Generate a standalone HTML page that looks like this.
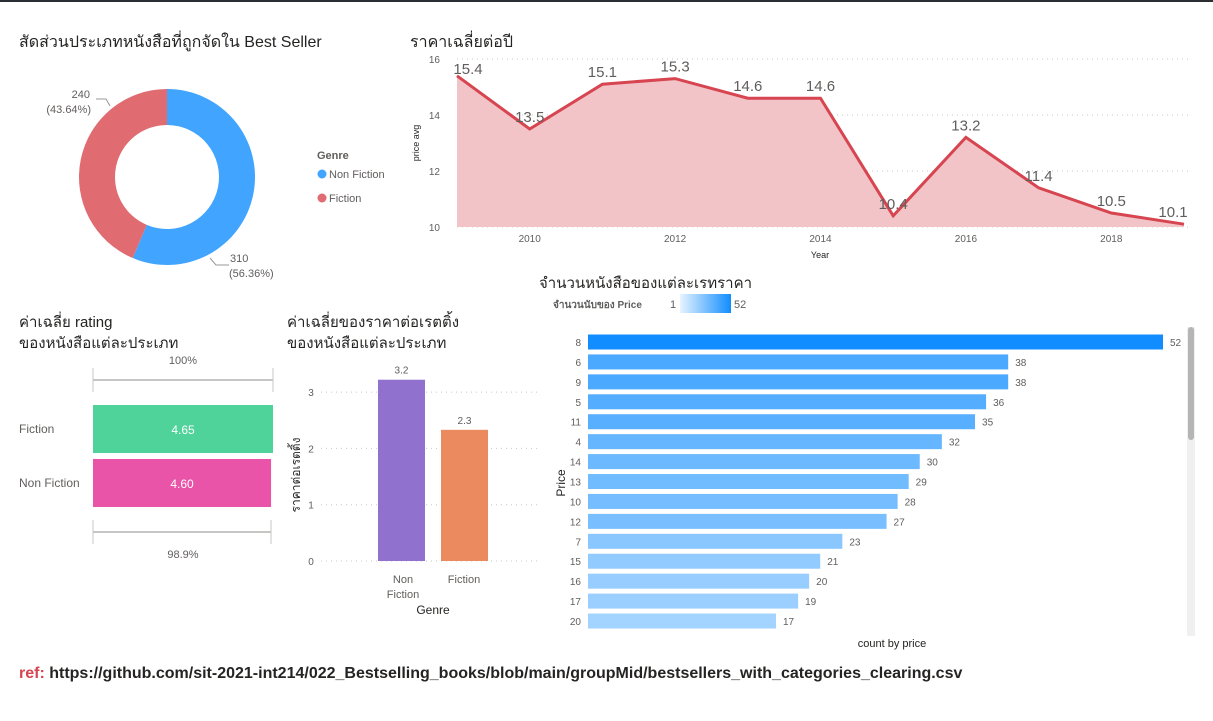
<!DOCTYPE html>
<html><head><meta charset="utf-8">
<style>
body{margin:0;width:1213px;height:721px;background:#fff;overflow:hidden;font-family:"Liberation Sans","Noto Sans CJK SC",sans-serif;}
#top{position:absolute;left:0;top:0;width:1213px;height:2px;background:#2b2f33;}
svg text{font-family:"Liberation Sans","Noto Sans CJK SC",sans-serif;}
</style></head><body>
<div id="top"></div>
<svg id="s" width="1213" height="721" style="position:absolute;left:0;top:0">
<text x="19" y="47" font-size="16" fill="#252423">สัดส่วนประเภทหนังสือที่ถูกจัดใน Best Seller</text>
<text x="410" y="47" font-size="16" fill="#252423">ราคาเฉลี่ยต่อปี</text>
<text x="19" y="327" font-size="15" fill="#252423">ค่าเฉลี่ย rating</text>
<text x="19" y="348" font-size="15" fill="#252423">ของหนังสือแต่ละประเภท</text>
<text x="287" y="327" font-size="15" fill="#252423">ค่าเฉลี่ยของราคาต่อเรตติ้ง</text>
<text x="287" y="348" font-size="15" fill="#252423">ของหนังสือแต่ละประเภท</text>
<text x="539" y="288" font-size="15" fill="#252423">จำนวนหนังสือของแต่ละเรทราคา</text>
<text x="19" y="678" font-size="16" font-weight="bold" fill="#252423"><tspan fill="#d64550">ref:</tspan> https://github.com/sit-2021-int214/022_Bestselling_books/blob/main/groupMid/bestsellers_with_categories_clearing.csv</text>
<g id="donut"></g><g id="line"></g><g id="bullet"></g><g id="col"></g><g id="bars"></g>
</svg>
<script>
const NS="http://www.w3.org/2000/svg";
function el(p,t,a,txt){const e=document.createElementNS(NS,t);for(const k in a)e.setAttribute(k,a[k]);if(txt!==undefined)e.textContent=txt;p.appendChild(e);return e;}

// ---- donut data
const genres=["Non Fiction","Fiction"];
const genreCounts=[310,240];
const genreColors=["#41a4ff","#e06c72"];
// ---- line data
const years=[2009,2010,2011,2012,2013,2014,2015,2016,2017,2018,2019];
const priceAvg=[15.4,13.5,15.1,15.3,14.6,14.6,10.4,13.2,11.4,10.5,10.1];
const yTicks=[10,12,14,16];
const xTicks=[2010,2012,2014,2016,2018];
// ---- bullet data
const bulletCats=["Fiction","Non Fiction"];
const bulletVals=[4.65,4.60];
// ---- column data
const colCats=["Non Fiction","Fiction"];
const colVals=[3.22,2.33];
const colLabels=["3.2","2.3"];
const colTicks=[0,1,2,3];
// ---- bar data
const priceCats=["8","6","9","5","11","4","14","13","10","12","7","15","16","17","20"];
const priceCounts=[52,38,38,36,35,32,30,29,28,27,23,21,20,19,17];

// donut
(function(){
 const g=document.getElementById('donut');const cx=167,cy=177,R=88,r=52;
 const tot=genreCounts.reduce((a,b)=>a+b,0);let a0=-Math.PI/2;
 genreCounts.forEach((v,i)=>{const a1=a0+v/tot*2*Math.PI;const lg=(a1-a0)>Math.PI?1:0;
  const p=`M${cx+R*Math.cos(a0)},${cy+R*Math.sin(a0)} A${R},${R} 0 ${lg} 1 ${cx+R*Math.cos(a1)},${cy+R*Math.sin(a1)} L${cx+r*Math.cos(a1)},${cy+r*Math.sin(a1)} A${r},${r} 0 ${lg} 0 ${cx+r*Math.cos(a0)},${cy+r*Math.sin(a0)}Z`;
  const s=el(g,'path',{d:p,fill:genreColors[i]});
  
  
  a0=a1;});
 el(g,'polyline',{points:"210,258 216,265 229,265",fill:"none",stroke:"#999"});
 el(g,'polyline',{points:"110,106 106,99 96,99",fill:"none",stroke:"#999"});
 const l1=el(g,'text',{x:230,y:262,"font-size":11,fill:"#605e5c"},genreCounts[0]);
 el(g,'text',{x:229,y:277,"font-size":11,fill:"#605e5c"},"("+(genreCounts[0]/tot*100).toFixed(2)+"%)");
 const l2=el(g,'text',{x:90,y:98,"font-size":11,fill:"#605e5c","text-anchor":"end"},genreCounts[1]);
 el(g,'text',{x:91,y:113,"font-size":11,fill:"#605e5c","text-anchor":"end"},"("+(genreCounts[1]/tot*100).toFixed(2)+"%)");
 const lt=el(g,'text',{x:317,y:159,"font-size":11,"font-weight":"bold",fill:"#605e5c"},"Genre");
 genres.forEach((n,i)=>{const y=174+i*24;el(g,'circle',{cx:322,cy:y,r:4.5,fill:genreColors[i]});
  const t=el(g,'text',{x:329,y:y+4,"font-size":11,fill:"#605e5c"},n);});
})();

// line
(function(){
 const g=document.getElementById('line');
 const X=y=>457+(y-2009)*(1184-457)/10, Y=v=>227-(v-10)*28;
 yTicks.forEach(t=>{el(g,'line',{x1:457,x2:1190,y1:Y(t),y2:Y(t),stroke:"#c8c8c8","stroke-dasharray":"1,4"});
  el(g,'text',{x:440,y:Y(t)+4,"font-size":10,fill:"#605e5c","text-anchor":"end"},t);});
 xTicks.forEach(t=>el(g,'text',{x:X(t),y:242,"font-size":10,fill:"#605e5c","text-anchor":"middle"},t));
 const pts=years.map((y,i)=>X(y)+","+Y(priceAvg[i])).join(" ");
 const a=el(g,'polygon',{points:X(years[0])+","+Y(10)+" "+pts+" "+X(years[years.length-1])+","+Y(10),fill:"#f2c4c7"});
 
 const l=el(g,'polyline',{points:pts,fill:"none",stroke:"#d64550","stroke-width":3});
 
 years.forEach((y,i)=>{const dx=i==0?11:(i==years.length-1?-11:0);
  const t=el(g,'text',{x:X(y)+dx,y:Y(priceAvg[i])-7+(i==0?5:0),"font-size":15,fill:"#605e5c","text-anchor":"middle"},priceAvg[i].toFixed(1));
  });
 el(g,'text',{x:820,y:258,"font-size":9,fill:"#252423","text-anchor":"middle"},"Year");
 el(g,'text',{x:419,y:143,"font-size":9,fill:"#252423","text-anchor":"middle",transform:"rotate(-90 419 143)"},"price avg");
})();

// bullet
(function(){
 const g=document.getElementById('bullet');const x0=93,w=180;
 el(g,'text',{x:183,y:364,"font-size":11,fill:"#605e5c","text-anchor":"middle"},"100%");
 el(g,'line',{x1:x0,x2:x0+w,y1:380,y2:380,stroke:"#c8c6c4","stroke-width":2});
 el(g,'line',{x1:x0,x2:x0,y1:368,y2:392,stroke:"#c8c6c4"});el(g,'line',{x1:x0+w,x2:x0+w,y1:368,y2:392,stroke:"#c8c6c4"});
 el(g,'line',{x1:x0,x2:x0+w*0.989,y1:532,y2:532,stroke:"#c8c6c4","stroke-width":2});
 el(g,'line',{x1:x0,x2:x0,y1:520,y2:544,stroke:"#c8c6c4"});el(g,'line',{x1:x0+w*0.989,x2:x0+w*0.989,y1:520,y2:544,stroke:"#c8c6c4"});
 el(g,'text',{x:183,y:558,"font-size":11,fill:"#605e5c","text-anchor":"middle"},"98.9%");
 const cols=["#4fd39a","#e954a8"];const mx=Math.max(...bulletVals);
 bulletCats.forEach((c,i)=>{const y=405+i*54;const bw=w*bulletVals[i]/mx;
  const r=el(g,'rect',{x:x0,y:y,width:bw,height:48,fill:cols[i]});
  el(g,'text',{x:x0+bw/2,y:y+29,"font-size":12,fill:"#fff","text-anchor":"middle"},bulletVals[i].toFixed(2));
  el(g,'text',{x:19,y:y+28,"font-size":12,fill:"#605e5c"},c);});
})();

// column
(function(){
 const g=document.getElementById('col');const Y=v=>561-v*56.3;
 colTicks.forEach(t=>{el(g,'line',{x1:321,x2:540,y1:Y(t),y2:Y(t),stroke:"#c8c8c8","stroke-dasharray":"1,4"});
  el(g,'text',{x:311,y:Y(t)+4,"font-size":10,fill:"#605e5c","text-anchor":"middle"},t);});
 const cols=["#9071ce","#eb895f"];
 colCats.forEach((c,i)=>{const x=378+i*63;
  const r=el(g,'rect',{x:x,y:Y(colVals[i]),width:47,height:Y(0)-Y(colVals[i]),fill:cols[i]});
  el(g,'text',{x:x+23.5,y:Y(colVals[i])-6,"font-size":10,fill:"#605e5c","text-anchor":"middle"},colLabels[i]);});
 el(g,'text',{x:403,y:583,"font-size":11,fill:"#605e5c","text-anchor":"middle"},"Non");
 el(g,'text',{x:403,y:598,"font-size":11,fill:"#605e5c","text-anchor":"middle"},"Fiction");
 el(g,'text',{x:464,y:583,"font-size":11,fill:"#605e5c","text-anchor":"middle"},"Fiction");
 el(g,'text',{x:433,y:614,"font-size":12,fill:"#252423","text-anchor":"middle"},"Genre");
 el(g,'text',{x:300,y:475,"font-size":12,fill:"#252423","text-anchor":"middle",transform:"rotate(-90 300 475)"},"ราคาต่อเรตติ้ง");
})();

// bars
(function(){
 const g=document.getElementById('bars');
 el(g,'text',{x:553,y:308,"font-size":10,"font-weight":"bold",fill:"#605e5c"},"จำนวนนับของ Price");
 el(g,'text',{x:670,y:308,"font-size":11,fill:"#605e5c"},"1");
 const df=el(document.getElementById('s'),'defs',{});const lg=el(df,'linearGradient',{id:'gr'});
 el(lg,'stop',{offset:0,"stop-color":"#e6f3ff"});el(lg,'stop',{offset:1,"stop-color":"#118dff"});
 el(g,'rect',{x:680,y:294,width:51,height:19,fill:"url(#gr)"});
 el(g,'text',{x:734,y:308,"font-size":11,fill:"#605e5c"},"52");
 const mx=Math.max(...priceCounts);const X=v=>v*(1163-588)/mx;
 const col=v=>{const t=(v-1)/(mx-1);return `rgb(${Math.round(230-213*t)},${Math.round(243-102*t)},255)`;};
 priceCats.forEach((c,i)=>{const yc=342+i*19.93;
  el(g,'text',{x:581,y:yc+4,"font-size":10,fill:"#605e5c","text-anchor":"end"},c);
  const r=el(g,'rect',{x:588,y:yc-7.5,width:X(priceCounts[i]),height:15,fill:col(priceCounts[i])});
  
  el(g,'text',{x:588+X(priceCounts[i])+7,y:yc+4,"font-size":10,fill:"#605e5c"},priceCounts[i]);});
 el(g,'text',{x:892,y:647,"font-size":11,fill:"#252423","text-anchor":"middle"},"count by price");
 el(g,'text',{x:565,y:483,"font-size":12,fill:"#252423","text-anchor":"middle",transform:"rotate(-90 565 483)"},"Price");
 const sb=el(g,'rect',{x:1187,y:327,width:8,height:309,fill:"#f0f0f0"});
 el(g,'rect',{x:1188,y:327,width:6,height:113,rx:3,fill:"#b5b5b5"});
})();
</script>
</body></html>
